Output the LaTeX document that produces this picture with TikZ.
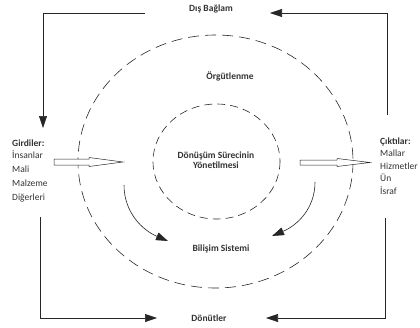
\documentclass[tikz,border=0pt]{standalone}
\usepackage{fontspec}
\setmainfont{Carlito}
\usetikzlibrary{arrows.meta}
\tikzset{
  lbl/.style={font=\fontsize{9.5}{14}\selectfont\bfseries, text=black!80},
  liste/.style={font=\fontsize{9.5}{14}\selectfont, text=black!80, align=left, anchor=north west, inner sep=0pt},
  ok/.style={draw=black!85, line width=0.6pt, -{Triangle[length=12pt,width=8pt]}},
  kesik/.style={draw=black!85, line width=0.6pt, dash pattern=on 11pt off 6pt},
  blok/.style={draw=black!85, line width=0.5pt, fill=white}
}
\begin{document}
\begin{tikzpicture}[x=1pt,y=-1pt]
\useasboundingbox (0,0) rectangle (420,327);
\draw[kesik] (215.5,161.5) ellipse [x radius=137.5, y radius=126.5];
\draw[kesik, dash pattern=on 8pt off 5pt] (216.5,161.5) ellipse [x radius=63.5, y radius=57.5];
\node[lbl] (dis) at (211,9) {Dış Bağlam};
\node[lbl] (donut) at (209,318) {Dönütler};
\node[lbl] (orgut) at (230,76) {Örgütlenme};
\node[lbl, align=center, font=\fontsize{9.5}{9.5}\selectfont\bfseries] (surec) at (216,160) {Dönüşüm Sürecinin\\Yönetilmesi};
\node[lbl] (bilisim) at (221,249) {Bilişim Sistemi};
\node[lbl, anchor=west, inner sep=0pt] (girdi) at (12,143) {Girdiler:};
\node[liste] (girdiler) at (12,151) {İnsanlar\\Mali\\Malzeme\\Diğerleri};
\node[lbl, anchor=west, inner sep=0pt] (cikti) at (380,142) {Çıktılar:};
\node[liste, font=\fontsize{9.5}{12.5}\selectfont] (ciktilar) at (380,150) {Mallar\\Hizmetler\\Ün\\İsraf};
\coordinate (a1) at (145,13);
\coordinate (a2) at (43,128);
\coordinate (b1) at (387,115);
\coordinate (b2) at (270,13);
\coordinate (c1) at (40,217);
\coordinate (c2) at (157,318);
\coordinate (d1) at (385,218);
\coordinate (d2) at (266,318);
\draw[ok] (a1) -| (a2);
\draw[ok] (b1) |- (b2);
\draw[ok] (c1) |- (c2);
\draw[ok] (d1) |- (d2);
\coordinate (e1) at (124,185);
\coordinate (e2) at (168,241);
\coordinate (f1) at (315,182);
\coordinate (f2) at (272,236);
\draw[ok] (e1) .. controls (124,212) and (142,230) .. (e2);
\draw[ok] (f1) .. controls (315,208) and (298,225) .. (f2);
\draw[blok] (54,159) -- (89,159) -- (89,157.5) -- (123,162) -- (89,166.5) -- (89,165) -- (54,165) -- cycle;
\draw[blok] (300,160) -- (337,160) -- (337,158.5) -- (370,162.5) -- (337,166.5) -- (337,165) -- (300,165) -- cycle;
\end{tikzpicture}
\end{document}
